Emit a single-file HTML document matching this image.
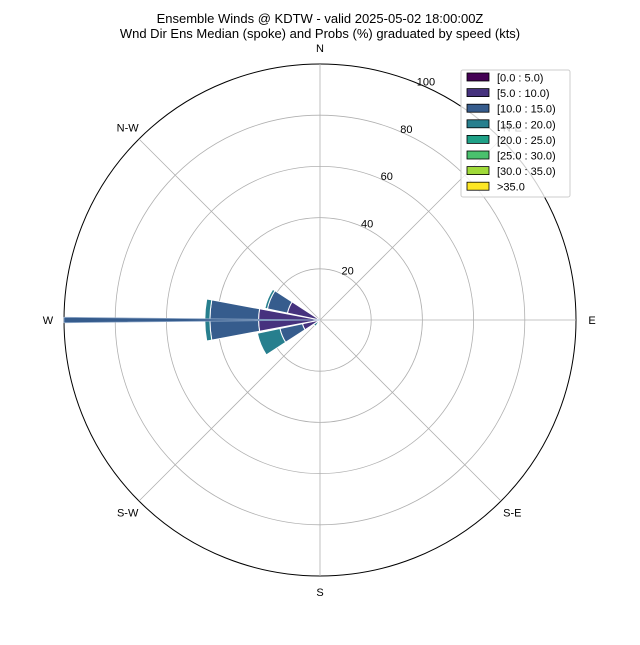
<!DOCTYPE html>
<html><head><meta charset="utf-8"><style>
body{margin:0;background:#fff;}
svg text{font-family:"Liberation Sans","DejaVu Sans",sans-serif;}
</style></head><body>
<svg id="chart" width="640" height="640" viewBox="0 0 640 640" xmlns="http://www.w3.org/2000/svg">
<rect width="640" height="640" fill="#fff"/>
<text x="320" y="23" font-size="13" text-anchor="middle">Ensemble Winds @ KDTW - valid 2025-05-02 18:00:00Z</text>
<text x="320" y="38" font-size="13" text-anchor="middle">Wnd Dir Ens Median (spoke) and Probs (%) graduated by speed (kts)</text>
<g id="grid"></g>
<g id="bars"></g>
<g id="labels"></g>
<g id="legend"></g>
</svg>
<script>
const speedBins = ["[0.0 : 5.0)","[5.0 : 10.0)","[10.0 : 15.0)","[15.0 : 20.0)","[20.0 : 25.0)","[25.0 : 30.0)","[30.0 : 35.0)",">35.0"];
const binColors = ["#440154","#46327e","#365c8d","#277f8e","#1fa187","#4ac16d","#a0da39","#fde725"];
const directions = [225, 247.5, 270, 292.5];
// probabilities (%) per speed bin for each direction
const probs0to5 = [0, 1, 1, 1];
const probs5to10 = [0, 6, 23, 12];
const probs10to15 = [1, 9, 19, 8];
const probs15to20 = [2, 9, 2, 1];
const spokeDir = 270;
const spokeValue = 100;
const rTicks = [20, 40, 60, 80, 100];
const compassLabels = ["N","N-E","E","S-E","S","S-W","W","N-W"];

const NS = "http://www.w3.org/2000/svg";
const cx = 320, cy = 320, R = 256, rMax = 100;
function rScale(v){ return v / rMax * R; }
function pt(deg, r){ const a = deg*Math.PI/180; return [cx + r*Math.sin(a), cy - r*Math.cos(a)]; }
function mk(tag, attrs, parent){ const e = document.createElementNS(NS, tag); for (const k in attrs) e.setAttribute(k, attrs[k]); parent.appendChild(e); return e; }
function wedge(dir, half, r0, r1){
  const a = pt(dir-half, r0), b = pt(dir-half, r1), c = pt(dir+half, r1), d = pt(dir+half, r0);
  return `M${a[0]},${a[1]} L${b[0]},${b[1]} A${r1},${r1} 0 0 1 ${c[0]},${c[1]} L${d[0]},${d[1]} A${r0},${r0} 0 0 0 ${a[0]},${a[1]} Z`;
}
const grid = document.getElementById('grid');
rTicks.forEach((t) => {
  const c = mk('circle', {cx, cy, r: rScale(t), fill: 'none', stroke: t===rMax?'#000':'#b0b0b0', 'stroke-width': t===rMax?1:0.8}, grid);
  
  
});
for (let i = 0; i < 8; i++) {
  const p = pt(i*45, R);
  const l = mk('line', {x1: cx, y1: cy, x2: p[0], y2: p[1], stroke: '#b0b0b0', 'stroke-width': 0.8}, grid);
  
  
}
const bars = document.getElementById('bars');
const series = [probs0to5, probs5to10, probs10to15, probs15to20];
directions.forEach((d, j) => {
  let cum = 0;
  series.forEach((s, k) => {
    const v = s[j]; if (!v) return;
    const p = mk('path', {d: wedge(d, 10.5, rScale(cum), rScale(cum+v)), fill: binColors[k], stroke: '#fff', 'stroke-width': 1}, bars);
    
    
    cum += v;
  });
});
const sp = mk('path', {d: wedge(spokeDir, 0.6, 0, rScale(spokeValue)), fill: '#365c8d', stroke: '#8fa8c8', 'stroke-width': 0.8}, bars);


const labels = document.getElementById('labels');
compassLabels.forEach((t, i) => {
  const p = pt(i*45, R + 16);
  const tx = mk('text', {x: p[0], y: p[1] + 4, 'font-size': 11, 'text-anchor': 'middle', fill: '#000'}, labels);
  tx.textContent = t;
  
  
});
rTicks.forEach((t) => {
  const p = pt(22.5, rScale(t));
  const tx = mk('text', {x: p[0] + 8, y: p[1] + 2, 'font-size': 11, 'text-anchor': 'middle', fill: '#000'}, labels);
  tx.textContent = t;
  
  
});
const lg = document.getElementById('legend');
const box = mk('rect', {x: 461, y: 70, width: 109, height: 127, rx: 2, fill: '#fff', 'fill-opacity': 0.8, stroke: '#ccc'}, lg);


speedBins.forEach((b, i) => {
  const y = 78 + i*15.6;
  const r = mk('rect', {x: 467, y: y - 5, width: 22, height: 8, fill: binColors[i], stroke: '#000', 'stroke-width': 0.8}, lg);
  
  
  const tx = mk('text', {x: 497, y: y + 3.5, 'font-size': 11, fill: '#000'}, lg);
  tx.textContent = b;
  
  
});
</script>
</body></html>
